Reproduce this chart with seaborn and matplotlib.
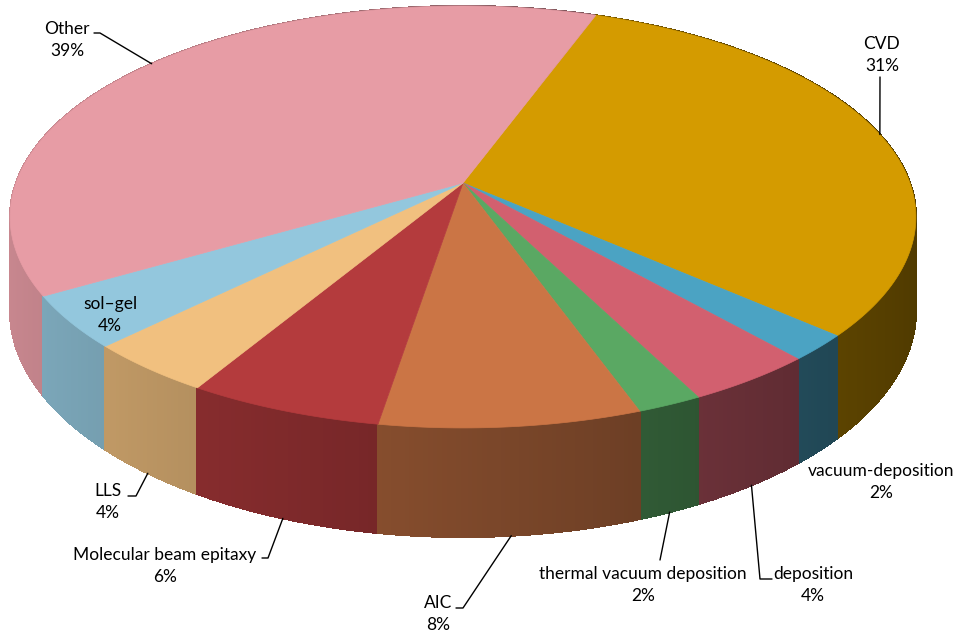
import numpy as np
import matplotlib
matplotlib.use("Agg")
import matplotlib.pyplot as plt
import seaborn as sns

# data, clockwise from the first slice
labels = ["CVD", "vacuum-deposition", "deposition", "thermal vacuum deposition", "AIC",
          "Molecular beam epitaxy", "LLS", "sol\u2013gel", "Other"]
shares = [31, 2, 4, 2, 8, 6, 4, 4, 39]
colors = ["#D49B00", "#4BA3C3", "#D2606F", "#5AA863", "#CB7545",
          "#B43B3D", "#F1C07F", "#93C7DD", "#E79CA5"]

# label centres and leader-line starts (pixel layout)
label_xy = [(882, 55), (881, 482), (813, 585), (643, 585), (438, 614),
            (165, 566), (108, 502), (110, 315), (67, 40)]
leader_start = [[(880, 77)], None, [(772, 579), (760, 579)], [(660, 560)],
                [(456, 608), (463, 608)], [(262, 558), (268, 558)],
                [(128, 496), (136, 496)], None, [(94, 33), (100, 33)]]

sns.set_theme(style="white")
plt.rcParams['font.family'] = ['Lato', 'DejaVu Sans']

# 3d pie projection (Excel style, slight perspective)
CX, CY = 463, 183
RX, RY, P, H = 447, 205.5, 0.161, 91.5
START = 20.0


def proj(phi, depth=0.0):
    u, w = np.sin(phi), np.cos(phi)
    s = 1.0 / (1.0 + P * w)
    return CX + RX * u * s, CY - RY * w * s + depth * s


def shade(col, phi):
    f = 0.62 - 0.25 * np.sin(phi)
    r, g, b = matplotlib.colors.to_rgb(col)
    return (r * f, g * f, b * f)


fig = plt.figure(figsize=(9.57, 6.36), dpi=100)
ax = fig.add_axes([0, 0, 1, 1])
ax.set_xlim(0, 957)
ax.set_ylim(636, 0)
ax.axis("off")

cum = np.concatenate([[0], np.cumsum(shares)]) / np.sum(shares)
angles = np.deg2rad(START + cum * 360)

# side walls, drawn back to front in thin strips
strips = []
for i in range(len(shares)):
    a0, a1 = angles[i], angles[i + 1]
    n = max(2, int(np.rad2deg(a1 - a0) / 0.5))
    edges = np.linspace(a0, a1, n + 1)
    for j in range(n):
        strips.append((np.cos((edges[j] + edges[j + 1]) / 2), edges[j], edges[j + 1], i))
strips.sort(key=lambda t: -t[0])
for _, e0, e1, i in strips:
    t = np.linspace(e0, e1, 3)
    xt, yt = proj(t)
    xb, yb = proj(t[::-1], H)
    c = shade(colors[i], (e0 + e1) / 2)
    ax.fill(np.r_[xt, xb], np.r_[yt, yb], color=c, lw=0.8, ec=c, antialiased=False)

# top surface
for i in range(len(shares)):
    t = np.linspace(angles[i], angles[i + 1], 120)
    x, y = proj(t)
    ax.fill(np.r_[CX, x], np.r_[CY, y], color=colors[i], lw=0.5, ec=colors[i])

# labels and leader lines
for i in range(len(shares)):
    x, y = label_xy[i]
    ax.text(x, y, f"{labels[i]}\n{shares[i]}%", ha="center", va="center",
            fontsize=12.5, color="black", linespacing=1.45)
    if leader_start[i] is None:
        continue
    mid = (angles[i] + angles[i + 1]) / 2
    end = proj(mid, H if np.cos(mid) < 0 else 0.0)
    pts = leader_start[i] + [end]
    ax.plot([p[0] for p in pts], [p[1] for p in pts], color="black", lw=1)

fig.savefig("out.png", dpi=100)
